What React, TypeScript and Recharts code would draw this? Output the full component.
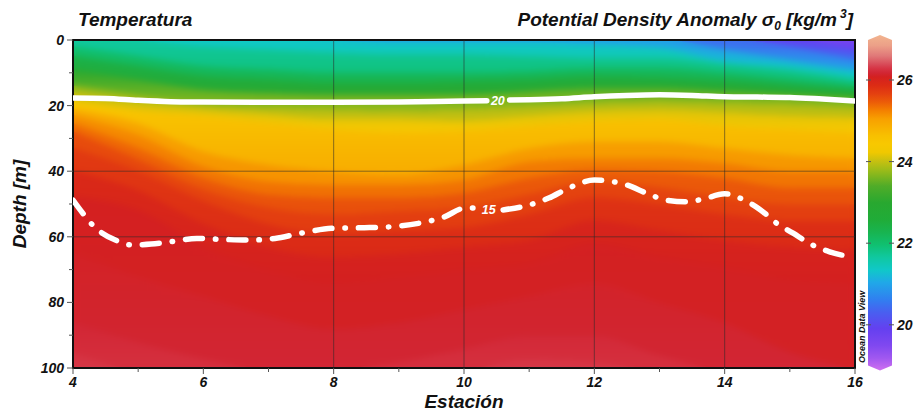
import React from 'react';
import { ComposedChart, Area, Line, XAxis, YAxis, ReferenceLine, ReferenceArea, ReferenceDot } from 'recharts';

const FONT = "'Liberation Sans', Arial, Helvetica, sans-serif";

// Stations (x) and axis ticks
const stations = [4, 5, 6, 7, 8, 9, 10, 11, 12, 13, 14, 15, 16];
const xTicks = [4, 5, 6, 7, 8, 9, 10, 11, 12, 13, 14, 15, 16];
const yTicks = [0, 10, 20, 30, 40, 50, 60, 70, 80, 90, 100];
const xGrid = [8, 10, 12, 14];
const yGrid = [40, 60];
const cbTicks = [20, 22, 24, 26];

// Colour palette of the colour bar (value -> colour)
const paletteValues = [19.0, 19.3, 19.6, 20.0, 20.4, 20.7, 21.1, 21.4, 21.7, 22.0, 22.3, 22.6, 23.0, 23.4, 23.6, 23.8, 24.0, 24.2, 24.4, 24.6, 24.8, 25.0, 25.2, 25.4, 25.6, 25.8, 26.0, 26.1, 26.2, 26.3, 26.5, 26.75, 27.0];
const paletteColors = ['#d070f0', '#a058f0', '#8048f0', '#6440f0', '#4860f0', '#3080f0', '#20a8e8', '#10c8c8', '#10c8a0', '#10c070', '#18b450', '#20ac38', '#28a830', '#50ac28', '#78b420', '#a0bc18', '#c8c010', '#f0c800', '#f8c800', '#f8c000', '#f8b000', '#f8a000', '#f48000', '#ec5c08', '#e44010', '#dc2c14', '#d42020', '#d22634', '#d63444', '#d84a58', '#e07878', '#eca088', '#f2b48e'];

// Field isolines: value of each level and its depth [m] at every station
const levels = [20.0, 20.5, 21.0, 21.4, 21.7, 22.0, 22.4, 23.0, 23.75, 24.0, 24.4, 24.85, 25.1, 25.3, 25.5, 25.65, 25.85, 26.0, 26.03, 26.1, 26.17];
const iso200 = [0, 0, 0, 0, 0, 0, 0, 0, 0, 0, 0, 0, 3];
const iso205 = [0, 0, 0, 0, 0, 0, 0, 0, 0, 0, 0, 2, 6];
const iso210 = [0, 0, 0, 0, 0, 0, 0, 0, 0, 0, 3, 6, 9];
const iso214 = [0, 0, 0, 0, 0.5, 1, 1, 1, 1.5, 2.5, 6.5, 8, 11];
const iso217 = [0, 0.5, 2, 3, 4, 4.5, 4.5, 5, 5.5, 5.5, 7.5, 9.5, 12.5];
const iso220 = [2, 5, 8, 9, 10, 10, 10, 9.5, 8.5, 8.5, 10, 12, 14];
const iso224 = [5, 8, 11, 12, 13, 13, 12.5, 12, 11, 11.5, 12.5, 14, 15.5];
const iso230 = [9, 12, 15, 16, 16.5, 16.5, 16.5, 15.5, 14.5, 14.5, 15.5, 16.5, 17.5];
const iso2375 = [14, 17, 19.5, 20.5, 21, 21.5, 21, 20, 19, 18.5, 19, 19.5, 20.5];
const iso240 = [16, 19, 21, 22.5, 24, 24, 24.5, 23, 21.5, 21, 22, 23, 23.5];
const iso244 = [18.5, 21.5, 23, 25, 27, 28, 27.5, 26, 24.5, 24, 26, 27, 28];
const iso2485 = [21, 25.5, 34, 38, 40, 41, 38, 33, 31, 31, 33, 35, 36];
const iso251 = [23, 29, 38.5, 43, 44, 44, 42.5, 37, 36, 36, 37.5, 40, 40];
const iso253 = [25.5, 33, 42, 47, 48, 48, 46.5, 42, 39.5, 40, 42, 45, 45];
const iso255 = [28, 36.5, 45.5, 51, 53, 52, 51, 47, 43, 45, 48, 50, 50];
const iso2565 = [33, 40, 49, 56, 59, 58, 57, 53, 48, 50, 53, 55, 55];
const iso2585 = [40, 46, 56, 63, 66, 65, 63, 61, 55, 58, 61, 63, 64];
const iso260 = [48, 52, 63, 70, 74, 72, 70, 68, 62, 66, 69, 73, 74];
const iso2603 = [65, 72, 78, 84, 88, 86, 82, 78, 74, 80, 86, 95, 100];
const iso2610 = [86, 92, 97, 100, 100, 98, 94, 90, 90, 96, 100, 100, 100];
const iso2617 = [95, 100, 100, 100, 100, 100, 100, 97, 98, 100, 100, 100, 100];
const isolines = [iso200, iso205, iso210, iso214, iso217, iso220, iso224, iso230, iso2375, iso240, iso244, iso2485, iso251, iso253, iso255, iso2565, iso2585, iso260, iso2603, iso2610, iso2617];
const surfaceValue = 19.7;
const bottomValue = 26.22;

// Contour "20" (solid) and "15" (dash-dot), split where the label sits
const c20WestSt = [4, 4.5, 5, 5.5, 6, 7, 8, 9, 10, 10.35];
const c20WestD = [17.7, 17.8, 18.4, 18.8, 18.9, 19.0, 19.0, 18.9, 18.6, 18.5];
const c20EastSt = [10.7, 11, 11.5, 12, 12.5, 13, 13.5, 14, 14.5, 15, 15.5, 16];
const c20EastD = [18.3, 18.2, 17.9, 17.3, 16.9, 16.7, 16.9, 17.3, 17.4, 17.5, 18.0, 18.6];
const c15WestSt = [4, 4.15, 4.3, 4.45, 4.65, 4.9, 5.2, 5.5, 5.9, 6.3, 6.7, 7.1, 7.5, 8, 8.55, 8.9, 9.3, 9.7, 10, 10.15];
const c15WestD = [48.8, 52.8, 56.4, 58.9, 61, 62.5, 62.2, 61.5, 60.5, 60.8, 61, 60.5, 58.9, 57.4, 57.2, 56.9, 55.9, 53.9, 51.3, 51.2];
const c15EastSt = [10.6, 11, 11.3, 11.6, 12, 12.5, 12.8, 13.1, 13.4, 13.65, 14, 14.3, 14.55, 14.8, 15.05, 15.3, 15.6, 15.9];
const c15EastD = [51.8, 50.3, 48.2, 45.2, 42.7, 44.2, 46.7, 48.8, 49.3, 48.6, 46.9, 48.8, 51.8, 55.9, 58.9, 62, 64.5, 66];
const label20 = { st: 10.52, d: 18.5, text: '20' };
const label15 = { st: 10.38, d: 51.8, text: '15' };

// ---------- helpers ----------
function hexToRgb(h: string) {
  const n = parseInt(h.slice(1), 16);
  return [(n >> 16) & 255, (n >> 8) & 255, n & 255];
}
function colorAt(v: number) {
  if (v <= paletteValues[0]) return paletteColors[0];
  const last = paletteValues.length - 1;
  if (v >= paletteValues[last]) return paletteColors[last];
  let i = 0;
  while (paletteValues[i + 1] < v) i++;
  const t = (v - paletteValues[i]) / (paletteValues[i + 1] - paletteValues[i]);
  const a = hexToRgb(paletteColors[i]);
  const b = hexToRgb(paletteColors[i + 1]);
  const c = a.map((x, k) => Math.round(x + (b[k] - x) * t));
  return `rgb(${c[0]},${c[1]},${c[2]})`;
}

const nBands = isolines.length + 1;
const bandTop = (i: number) => (i === 0 ? surfaceValue : levels[i - 1]);
const bandBottom = (i: number) => (i === isolines.length ? bottomValue : levels[i]);

const fieldRows = stations.map((st, k) => {
  const row: any = { st };
  for (let i = 0; i < nBands; i++) {
    const top = i === 0 ? 0 : isolines[i - 1][k];
    const bot = i === isolines.length ? 100 : isolines[i][k];
    row['b' + i] = [top, bot];
  }
  return row;
});

const toPts = (sts: number[], ds: number[]) => sts.map((st, i) => ({ st, d: ds[i] }));
const c20West = toPts(c20WestSt, c20WestD);
const c20East = toPts(c20EastSt, c20EastD);
const c15West = toPts(c15WestSt, c15WestD);
const c15East = toPts(c15EastSt, c15EastD);

const PLOT_L = 73;
const PLOT_B = 368;
const W = 915;
const H = 414;

const textStyle = { fontFamily: FONT, fontWeight: 'bold' as const, fontStyle: 'italic' as const, fill: '#111' };

const XTick = (p: any) => {
  const v = p.payload.value;
  const major = v % 2 === 0;
  return (
    <g>
      <line x1={p.x} x2={p.x} y1={PLOT_B} y2={PLOT_B + (major ? 6 : 4)} stroke="#555" strokeWidth={1} />
      {major && (
        <text x={p.x} y={387} textAnchor="middle" fontSize={14} {...textStyle}>{v}</text>
      )}
    </g>
  );
};

const YTick = (p: any) => {
  const v = p.payload.value;
  const major = v % 20 === 0;
  return (
    <g>
      <line x1={PLOT_L - (major ? 6 : 4)} x2={PLOT_L} y1={p.y} y2={p.y} stroke="#555" strokeWidth={1} />
      {major && (
        <text x={64} y={p.y} dy={5} textAnchor="end" fontSize={14} {...textStyle}>{v}</text>
      )}
    </g>
  );
};

const labelShape = (text: string) => (p: any) => (
  <text x={p.cx} y={p.cy} dy={4.5} textAnchor="middle" fontSize={12.5} fontFamily={FONT} fontWeight="bold" fontStyle="italic" fill="#fff">{text}</text>
);

// colour bar geometry (page px)
const CB_L = 868, CB_R = 892, CB_TOP = 40, CB_BOT = 365.6;
const cbY = (v: number) => 80 + (26 - v) * 40.8;

const fieldMargin = { top: 40, right: 60, bottom: 46, left: 73 };

function FieldChart({ idPrefix }: { idPrefix: string }) {
  return (
    <ComposedChart width={W} height={H} data={fieldRows} margin={fieldMargin}>
      <defs>
        {Array.from({ length: nBands }).map((_, i) => (
          <linearGradient key={i} id={idPrefix + i} x1="0" y1="0" x2="0" y2="1">
            <stop offset="0%" stopColor={colorAt(bandTop(i))} />
            <stop offset="100%" stopColor={colorAt(bandBottom(i))} />
          </linearGradient>
        ))}
      </defs>
      <XAxis type="number" dataKey="st" domain={[4, 16]} hide allowDataOverflow />
      <YAxis type="number" reversed domain={[0, 100]} hide allowDataOverflow />
      {Array.from({ length: nBands }).map((_, i) => (
        <Area
          key={'a' + i}
          dataKey={'b' + i}
          type="monotone"
          fill={`url(#${idPrefix}${i})`}
          fillOpacity={1}
          stroke={colorAt(bandTop(i))}
          strokeWidth={1.2}
          dot={false}
          activeDot={false}
          isAnimationActive={false}
        />
      ))}
    </ComposedChart>
  );
}

const abs: React.CSSProperties = { position: 'absolute', left: 0, top: 0, width: W, height: H };

export default function App() {
  return (
    <div style={{ ...abs, overflow: 'hidden' }}>
      <div style={abs}>
        <FieldChart idPrefix="bandA" />
      </div>
      <div style={{ ...abs, clipPath: 'inset(40px 60px 46px 73px)' }}>
        <div style={{ ...abs, filter: 'blur(3px)' }}>
          <FieldChart idPrefix="bandB" />
        </div>
      </div>
      <div style={abs}>
        <ComposedChart width={W} height={H} data={fieldRows} margin={{ top: 40, right: 60, bottom: 16, left: 13 }}>
          <XAxis type="number" dataKey="st" domain={[4, 16]} ticks={xTicks} interval={0} tick={(p: any) => <XTick {...p} />} tickLine={false} axisLine={false} height={30} allowDataOverflow />
          <YAxis type="number" reversed domain={[0, 100]} ticks={yTicks} interval={0} tick={(p: any) => <YTick {...p} />} tickLine={false} axisLine={false} width={60} allowDataOverflow />
          {xGrid.map((x) => (
            <ReferenceLine key={'gx' + x} x={x} stroke="#2a2a2a" strokeOpacity={0.55} strokeWidth={1} />
          ))}
          {yGrid.map((y) => (
            <ReferenceLine key={'gy' + y} y={y} stroke="#2a2a2a" strokeOpacity={0.55} strokeWidth={1} />
          ))}
          <Line data={c20West} dataKey="d" type="monotone" stroke="#fff" strokeWidth={5.5} strokeLinecap="round" dot={false} activeDot={false} isAnimationActive={false} />
          <Line data={c20East} dataKey="d" type="monotone" stroke="#fff" strokeWidth={5.5} strokeLinecap="round" dot={false} activeDot={false} isAnimationActive={false} />
          <Line data={c15West} dataKey="d" type="monotone" stroke="#fff" strokeWidth={5.5} strokeLinecap="round" strokeDasharray="17 13 0.5 13" dot={false} activeDot={false} isAnimationActive={false} />
          <Line data={c15East} dataKey="d" type="monotone" stroke="#fff" strokeWidth={5.5} strokeLinecap="round" strokeDasharray="17 13 0.5 13" dot={false} activeDot={false} isAnimationActive={false} />
          <ReferenceDot x={label20.st} y={label20.d} r={0} shape={labelShape(label20.text)} />
          <ReferenceDot x={label15.st} y={label15.d} r={0} shape={labelShape(label15.text)} />
          <ReferenceArea x1={4} x2={16} y1={0} y2={100} fill="none" fillOpacity={0} stroke="#111" strokeWidth={2} ifOverflow="visible" />
        </ComposedChart>
      </div>
      <svg width={W} height={H} style={{ position: 'absolute', left: 0, top: 0, pointerEvents: 'none' }}>
        <defs>
          <linearGradient id="cbGrad" x1="0" y1="0" x2="0" y2="1">
            {paletteValues.map((v, i) => (
              <stop key={i} offset={`${((27 - v) / 8) * 100}%`} stopColor={paletteColors[i]} />
            )).reverse()}
          </linearGradient>
        </defs>
        <text x={78} y={26} fontSize={19} {...textStyle}>Temperatura</text>
        <text x={853} y={26} fontSize={19} textAnchor="end" {...textStyle}>
          Potential Density Anomaly σ<tspan fontSize={12} dy={4}>0</tspan>
          <tspan dy={-4}> [kg/m</tspan>
          <tspan fontSize={12} dy={-8} dx={3}>3</tspan>
          <tspan dy={8}>]</tspan>
        </text>
        <text x={26} y={204} fontSize={19} textAnchor="middle" transform="rotate(-90, 26, 204)" {...textStyle}>Depth [m]</text>
        <text x={464} y={408} fontSize={19} textAnchor="middle" {...textStyle}>Estación</text>
        <path
          d={`M${CB_L},${CB_TOP} L${(CB_L + CB_R) / 2},${CB_TOP - 5} L${CB_R},${CB_TOP} L${CB_R},${CB_BOT} L${(CB_L + CB_R) / 2},${CB_BOT + 5} L${CB_L},${CB_BOT} Z`}
          fill="url(#cbGrad)"
        />
        {cbTicks.map((v) => (
          <g key={'cb' + v}>
            <line x1={CB_L - 2} x2={CB_L + 3} y1={cbY(v)} y2={cbY(v)} stroke="#555" strokeWidth={1} />
            <line x1={CB_R - 3} x2={CB_R + 2} y1={cbY(v)} y2={cbY(v)} stroke="#555" strokeWidth={1} />
            <text x={897} y={cbY(v)} dy={5} fontSize={14} {...textStyle}>{v}</text>
          </g>
        ))}
        <text x={865} y={363} fontSize={9} transform="rotate(-90, 865, 363)" {...textStyle}>Ocean Data View</text>
      </svg>
    </div>
  );
}
